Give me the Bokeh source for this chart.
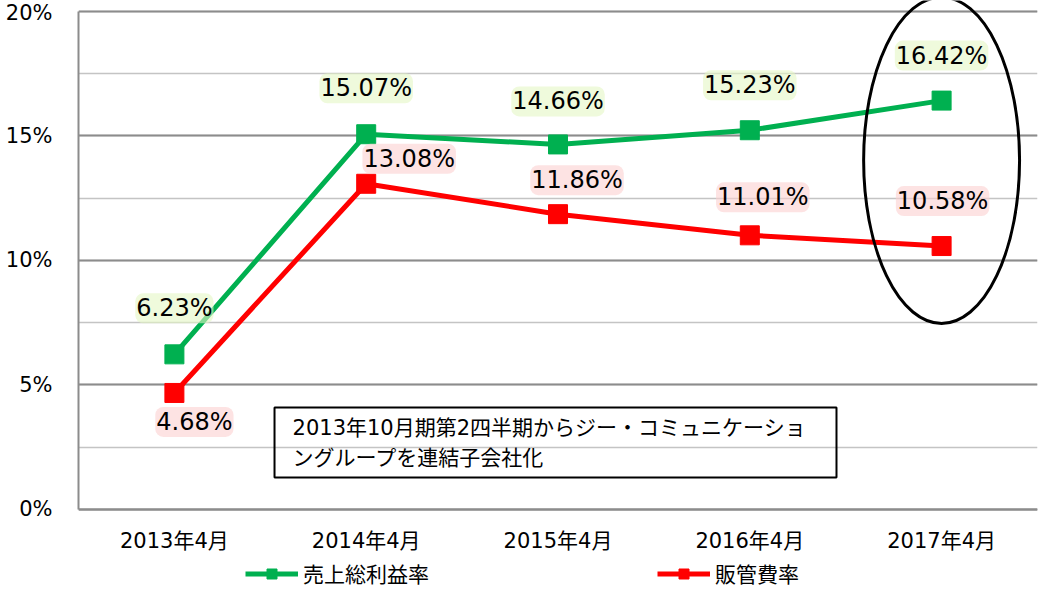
from bokeh.plotting import figure
from bokeh.models import (FactorRange, Range1d, SingleIntervalTicker, PrintfTickFormatter,
                          ColumnDataSource, Legend, LegendItem, BoxAnnotation, Label)
from bokeh.core.properties import value
from bokeh.embed import file_html
from bokeh.resources import INLINE

# ---- data ----
categories = ["2013年4月", "2014年4月", "2015年4月", "2016年4月", "2017年4月"]
gross_margin = [6.23, 15.07, 14.66, 15.23, 16.42]      # 売上総利益率 (%)
sga_ratio = [4.68, 13.08, 11.86, 11.01, 10.58]          # 販管費率 (%)
series_names = ["売上総利益率", "販管費率"]
note_lines = ["2013年10月期第2四半期からジー・コミュニケーショ", "ングループを連結子会社化"]

# label placement (screen px offsets from point)
green_dx = [0, 0, 0, 0, 0]
green_dy = [-46, -46, -43, -45, -45]
red_dx = [20, 43, 19, 13, 1]
red_dy = [29, -25, -34, -38, -45]

FONT = "DejaVu Sans, Noto Sans CJK JP"
GREEN = "#00B050"
RED = "#FF0000"

p = figure(width=1041, height=591, output_backend="svg", toolbar_location=None,
           x_range=FactorRange(factors=categories, range_padding=0),
           y_range=Range1d(-3.293, 20.44),
           min_border_left=78, min_border_right=4, min_border_top=0, min_border_bottom=0)
p.outline_line_color = None
p.background_fill_color = "white"
p.border_fill_color = "white"

ticker = SingleIntervalTicker(interval=5, num_minor_ticks=2)
p.yaxis.ticker = ticker
p.yaxis.formatter = PrintfTickFormatter(format="%d%%")
p.yaxis.bounds = (0, 20)
p.yaxis.axis_line_color = "#8c8c8c"
p.yaxis.axis_line_width = 2
p.yaxis.major_tick_line_color = None
p.yaxis.minor_tick_line_color = None
p.yaxis.major_label_standoff = 20
p.yaxis.major_label_text_font_size = "21px"
p.yaxis.major_label_text_font = FONT
p.yaxis.major_label_text_color = "black"

p.xaxis.fixed_location = 0
p.xaxis.axis_line_color = "#8c8c8c"
p.xaxis.axis_line_width = 2
p.xaxis.major_tick_line_color = None
p.xaxis.minor_tick_line_color = None
p.xaxis.major_label_standoff = 14
p.xaxis.major_label_text_font_size = "21px"
p.xaxis.major_label_text_font = FONT
p.xaxis.major_label_text_color = "black"

p.xgrid.grid_line_color = None
p.ygrid.ticker = ticker
p.ygrid.bounds = (0, 20)
p.ygrid.grid_line_color = "#8c8c8c"
p.ygrid.grid_line_width = 2
p.ygrid.minor_grid_line_color = "#c4c4c4"
p.ygrid.minor_grid_line_width = 1.5

# annotation box (transparent, with note text)
box = BoxAnnotation(left=1.022, right=3.952, bottom=1.285, top=4.096,
                    fill_color=None, fill_alpha=0, line_color="black", line_alpha=1.0,
                    line_width=2, level="underlay")
p.add_layout(box)
note = Label(x=1.116, y=3.735, text="\n".join(note_lines), text_baseline="top", text_align="left",
             text_font=FONT, text_font_size="21px", text_color="black", text_line_height=1.25)
p.add_layout(note)

# series
r_line = p.line(categories, sga_ratio, line_color=RED, line_width=5)
r_pts = p.scatter(categories, sga_ratio, marker="square", size=19, fill_color=RED, line_color=RED)
g_line = p.line(categories, gross_margin, line_color=GREEN, line_width=5)
g_pts = p.scatter(categories, gross_margin, marker="square", size=19, fill_color=GREEN, line_color=GREEN)

# data labels
gsrc = ColumnDataSource(dict(x=categories, y=gross_margin,
                             t=["%.2f%%" % v for v in gross_margin], dx=green_dx, dy=green_dy))
rsrc = ColumnDataSource(dict(x=categories, y=sga_ratio,
                             t=["%.2f%%" % v for v in sga_ratio], dx=red_dx, dy=red_dy))
for src, glow in ((gsrc, "#e4f6c4"), (rsrc, "#fbd0d0")):
    p.text(x="x", y="y", text="t", x_offset="dx", y_offset="dy", source=src,
           text_align="center", text_baseline="middle", text_font=value(FONT),
           text_font_size="24px", text_color="black",
           background_fill_color=glow, background_fill_alpha=0.6, padding=1, border_radius=8)

# highlight ellipse on the last period
p.ellipse(x=[categories[-1]], y=[14.02], width=0.813, height=13.1,
          fill_color=None, line_color="black", line_width=3)

legend = Legend(items=[LegendItem(label=series_names[0], renderers=[g_line, g_pts]),
                       LegendItem(label=series_names[1], renderers=[r_line, r_pts])],
                orientation="horizontal", location=(167, 3), glyph_width=53, glyph_height=25,
                label_standoff=5, spacing=228, padding=0, margin=0,
                border_line_color=None, background_fill_alpha=0,
                label_text_font=FONT, label_text_font_size="21px", label_text_color="black")
p.add_layout(legend)

open("out.html", "w").write(file_html(p, INLINE))
